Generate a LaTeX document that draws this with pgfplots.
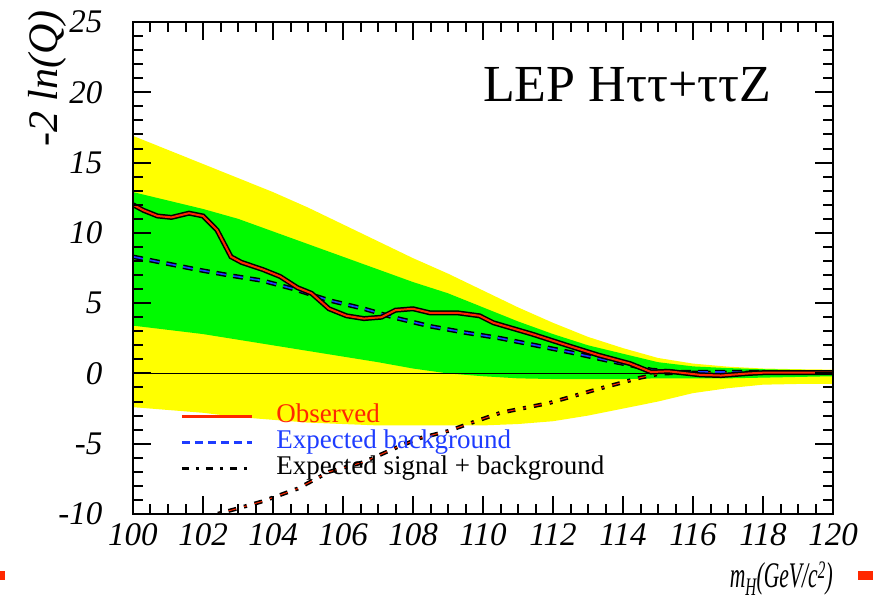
\documentclass[border=0pt]{standalone}
\usepackage{pgfplots}
\pgfplotsset{compat=1.18}
\usepackage{fontspec}
\setmainfont{Liberation Serif}
\definecolor{yband}{RGB}{255,255,0}
\definecolor{gband}{RGB}{0,250,0}
\definecolor{obsred}{RGB}{255,40,0}
\definecolor{bgblue}{RGB}{30,60,255}
\begin{document}
\begin{tikzpicture}
\path[use as bounding box] (0pt,0pt) rectangle (873pt,613pt);
\begin{axis}[
  at={(133pt,99pt)}, anchor=south west,
  scale only axis, width=700pt, height=492pt,
  xmin=100, xmax=120, ymin=-10, ymax=25,
  axis on top,
  axis line style={line width=2pt},
  every tick/.append style={black, line width=2pt},
  tick align=inside,
  major tick length=18pt, minor tick length=10pt,
  xtick={100,102,...,120},
  xticklabels={100,102,104,106,108,110,112,114,116,118,120},
  minor x tick num=3,
  ytick={-10,-5,0,5,10,15,20,25},
  yticklabels={-10,-5,0,5,10,15,20,25},
  minor y tick num=4,
  ticklabel style={font=\fontsize{33}{33}\selectfont\itshape},
  xticklabel style={anchor=north, yshift=-6pt},
  yticklabel style={anchor=east, xshift=-27pt},
  legend style={at={(axis cs:101.35,-2.2)}, anchor=north west, draw=none, fill=none,
    inner sep=0pt, font=\fontsize{27}{27}\selectfont, row sep=3pt,
    nodes={inner sep=0pt, text height=18pt, text depth=5pt},
    /tikz/every odd column/.append style={column sep=23pt}},
  legend cell align=left,
]
% 2 sigma band
\addplot[fill=yband, draw=none, forget plot] coordinates {
(100,16.9) (101,15.9) (102,14.9) (103,13.9) (104,12.9) (105,11.8) (106,10.6) (107,9.4)
(108,8.2) (109,7.1) (110,5.9) (111,4.7) (112,3.6) (113,2.6) (114,1.8) (115,1.1)
(116,0.7) (117,0.48) (118,0.35) (119,0.3) (120,0.27)
(120,-0.75) (119,-0.75) (118,-0.8) (117,-1.05) (116,-1.4) (115,-2.0) (114,-2.5)
(113,-3.0) (112,-3.4) (111,-3.6) (110,-3.7) (109,-3.7) (108,-3.7) (107,-3.7)
(106,-3.6) (105,-3.5) (104,-3.3) (103,-3.1) (102,-2.8) (101,-2.6) (100,-2.4)};
% 1 sigma band
\addplot[fill=gband, draw=none, forget plot] coordinates {
(100,12.9) (101,12.3) (102,11.7) (103,11.0) (104,10.1) (105,9.2) (106,8.3) (107,7.4)
(108,6.5) (109,5.7) (110,4.7) (111,3.7) (112,2.8) (113,2.0) (114,1.4) (115,0.8)
(116,0.5) (117,0.38) (118,0.3) (119,0.25) (120,0.22)
(120,-0.2) (119,-0.25) (118,-0.3) (117,-0.35) (116,-0.35) (115,-0.35) (114,-0.4)
(113,-0.4) (112,-0.4) (111,-0.35) (110,-0.2) (109,0.0) (108,0.35) (107,0.8)
(106,1.2) (105,1.6) (104,2.0) (103,2.4) (102,2.8) (101,3.1) (100,3.4)};
% zero line
\addplot[black, line width=1.6pt, forget plot] coordinates {(100,0) (120,0)};
% expected signal + background
\addplot[black, line width=4pt, dash pattern=on 8pt off 8pt on 3pt off 8pt, forget plot] coordinates {
(102.0,-10.4) (102.4,-10.0) (103.0,-9.6) (103.7,-9.1) (104.7,-8.2) (105.6,-7.0) (106.6,-6.3)
(107.5,-5.3) (108.2,-4.6) (109.0,-4.1) (109.8,-3.4) (110.5,-2.8) (111.9,-2.1)
(113.3,-1.1) (114.5,-0.3) (115.1,0.0) (116,0.05) (118,0.05) (120,0.05)};
\addplot[obsred, line width=1pt, dash pattern=on 8pt off 8pt on 3pt off 8pt, forget plot] coordinates {
(102.0,-10.4) (102.4,-10.0) (103.0,-9.6) (103.7,-9.1) (104.7,-8.2) (105.6,-7.0) (106.6,-6.3)
(107.5,-5.3) (108.2,-4.6) (109.0,-4.1) (109.8,-3.4) (110.5,-2.8) (111.9,-2.1)
(113.3,-1.1) (114.5,-0.3) (115.1,0.0) (116,0.05) (118,0.05) (120,0.05)};
% expected background
\addplot[black, line width=4.5pt, dash pattern=on 10pt off 7pt, forget plot] coordinates {
(100,8.3) (101,7.8) (101.8,7.4) (102.7,7.0) (103.7,6.6) (104.6,6.0) (105.6,5.2)
(106.6,4.6) (107.5,3.95) (108.5,3.35) (109.5,2.9) (110.5,2.5) (111.5,2.0) (112.5,1.5)
(113.5,0.95) (114.2,0.6) (114.8,0.25) (115.5,0.1) (117,0.1) (120,0.05)};
\addplot[bgblue, line width=1.6pt, dash pattern=on 10pt off 7pt, forget plot] coordinates {
(100,8.3) (101,7.8) (101.8,7.4) (102.7,7.0) (103.7,6.6) (104.6,6.0) (105.6,5.2)
(106.6,4.6) (107.5,3.95) (108.5,3.35) (109.5,2.9) (110.5,2.5) (111.5,2.0) (112.5,1.5)
(113.5,0.95) (114.2,0.6) (114.8,0.25) (115.5,0.1) (117,0.1) (120,0.05)};
% observed
\addplot[black, line width=5pt, forget plot] coordinates {
(100,12.0) (100.3,11.6) (100.7,11.2) (101.1,11.1) (101.6,11.4) (102.0,11.2) (102.4,10.2)
(102.8,8.3) (103.1,7.9) (103.7,7.4) (104.2,6.9) (104.7,6.1) (105.1,5.7) (105.6,4.6)
(106.1,4.1) (106.6,3.9) (107.1,4.0) (107.5,4.5) (108.0,4.6) (108.5,4.3) (109.3,4.3)
(109.9,4.1) (110.3,3.6) (111.4,2.8) (112.4,2.0) (113.3,1.3) (114.2,0.7) (114.8,0.1)
(115.3,0.15) (116.2,-0.1) (116.8,-0.15) (117.6,0.0) (118,0.05) (119,0.05) (120,0.05)};
\addplot[obsred, line width=2pt, forget plot] coordinates {
(100,12.0) (100.3,11.6) (100.7,11.2) (101.1,11.1) (101.6,11.4) (102.0,11.2) (102.4,10.2)
(102.8,8.3) (103.1,7.9) (103.7,7.4) (104.2,6.9) (104.7,6.1) (105.1,5.7) (105.6,4.6)
(106.1,4.1) (106.6,3.9) (107.1,4.0) (107.5,4.5) (108.0,4.6) (108.5,4.3) (109.3,4.3)
(109.9,4.1) (110.3,3.6) (111.4,2.8) (112.4,2.0) (113.3,1.3) (114.2,0.7) (114.8,0.1)
(115.3,0.15) (116.2,-0.1) (116.8,-0.15) (117.6,0.0) (118,0.05) (119,0.05) (120,0.05)};
% tick marks along the frame (inside)
\pgfplotsinvokeforeach{100.5,101,101.5,102.5,103,103.5,104.5,105,105.5,106.5,107,107.5,108.5,109,109.5,110.5,111,111.5,112.5,113,113.5,114.5,115,115.5,116.5,117,117.5,118.5,119,119.5}{
  \draw[black, line width=2pt] (axis cs:#1,-10) -- ++(0pt,10pt);
  \draw[black, line width=2pt] (axis cs:#1,25) -- ++(0pt,-10pt);
}
\pgfplotsinvokeforeach{102,104,106,108,110,112,114,116,118}{
  \draw[black, line width=2pt] (axis cs:#1,-10) -- ++(0pt,18pt);
  \draw[black, line width=2pt] (axis cs:#1,25) -- ++(0pt,-18pt);
}
\pgfplotsinvokeforeach{-9,-8,-7,-6,-4,-3,-2,-1,1,2,3,4,6,7,8,9,11,12,13,14,16,17,18,19,21,22,23,24}{
  \draw[black, line width=2pt] (axis cs:100,#1) -- ++(10pt,0pt);
  \draw[black, line width=2pt] (axis cs:120,#1) -- ++(-10pt,0pt);
}
\pgfplotsinvokeforeach{-5,0,5,10,15,20}{
  \draw[black, line width=2pt] (axis cs:100,#1) -- ++(18pt,0pt);
  \draw[black, line width=2pt] (axis cs:120,#1) -- ++(-18pt,0pt);
}
\addlegendimage{legend image code/.code={\draw[obsred, line width=3pt] (0pt,0pt) -- (70pt,0pt);}}
\addlegendentry{\textcolor{obsred}{Observed}}
\addlegendimage{legend image code/.code={\draw[bgblue, line width=3pt, dash pattern=on 8pt off 5pt] (0pt,0pt) -- (70pt,0pt);}}
\addlegendentry{\textcolor{bgblue}{Expected background}}
\addlegendimage{legend image code/.code={\draw[black, line width=3pt, dash pattern=on 7pt off 7pt on 3pt off 7pt] (0pt,0pt) -- (70pt,0pt);}}
\addlegendentry{Expected signal + background}
\end{axis}
\node[anchor=base west, inner sep=0pt, font=\fontsize{52}{52}\selectfont] at (483pt,511pt) {LEP Hττ+ττZ};
\node[rotate=90, anchor=base east, inner sep=0pt, font=\fontsize{42}{42}\selectfont\itshape] at (57pt,603pt) {-2 ln(Q)};
\node[anchor=base east, inner sep=0pt, font=\fontsize{36}{36}\selectfont\itshape] at (833pt,25pt)
  {\scalebox{0.6}[1]{m\textsubscript{H}(GeV/c\textsuperscript{2})}};
\fill[obsred] (0pt,33pt) rectangle (5pt,42pt);
\fill[obsred] (858pt,33pt) rectangle (873pt,42pt);
\end{tikzpicture}
\end{document}
